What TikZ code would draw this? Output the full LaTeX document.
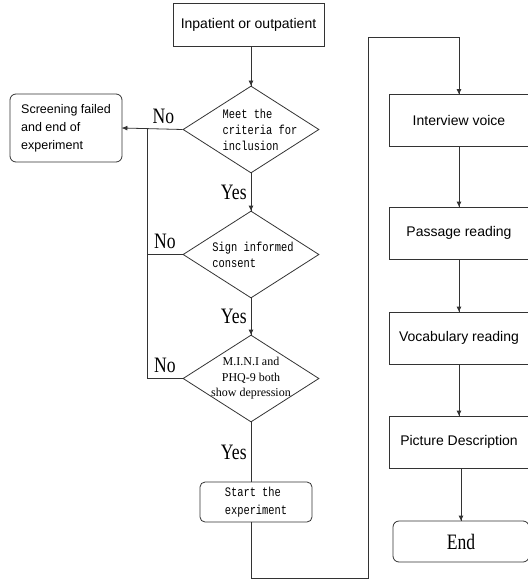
\documentclass[tikz,border=0pt]{standalone}
\usepackage{fontspec}
\setmainfont{Liberation Serif}
\newfontfamily\boxfont{Liberation Sans}
\newfontfamily\codefont[FakeStretch=0.8]{Liberation Mono}
\newfontfamily\answerfont[FakeStretch=0.8]{Liberation Serif}
\usetikzlibrary{shapes.geometric, arrows.meta, decorations.markings}

\begin{document}
\begin{tikzpicture}[%
		x=1pt, y=-1pt,
		process/.style={
			rectangle,
			draw=black!80,
			minimum width=140pt,
			minimum height=52pt,
			inner sep=0pt,
			align=center,
			font=\boxfont\fontsize{14}{17}\selectfont
		},
		terminal/.style={
			rectangle,
			rounded corners=6pt,
			draw=black!80,
			inner sep=0pt,
			align=left
		},
		decision/.style={
			diamond,
			aspect=1.56,
			draw=black!80,
			inner sep=-10pt,
			minimum width=136pt,
			minimum height=87pt,
			align=left,
			font=\codefont\fontsize{13}{16}\selectfont
		},
		answer/.style={
			font=\answerfont\fontsize{22}{22}\selectfont,
			inner sep=2pt
		},
		flowarrow/.style={
			decoration={markings,mark=at position 1 with {\arrow{Triangle[length=5pt,width=4.5pt]}}},
			postaction={decorate}
		}, line width=0.8pt, draw=black!80]

		\useasboundingbox (0,0) rectangle (527,580);

		% SCREENING

		\node (inpatient) [process, minimum width=151pt, minimum height=43pt] at (248.5,24.5) {Inpatient or outpatient};
		\node (criteria) [decision] at (251,129.5) {\hspace*{18pt}Meet the\\\hspace*{18pt}criteria for\\\hspace*{18pt}inclusion};
		\node (consent) [decision] at (251,254.5) {\hspace*{4pt}Sign informed\\\hspace*{4pt}consent};
		\node (depression) [decision, align=center, font=\fontsize{12}{15.5}\selectfont] at (251,378.5) {M.I.N.I and\\PHQ-9 both\\show depression};
		\node (failed) [terminal, minimum width=112pt, minimum height=68pt, font=\boxfont\fontsize{12.5}{18}\selectfont] at (66,128) {Screening failed\\and end of\\experiment};
		\node (start) [terminal, rounded corners=5pt, minimum width=112pt, minimum height=40pt, font=\codefont\fontsize{13}{18}\selectfont] at (256,502) {Start the\\experiment};

		% TASKS

		\node (interview) [process] at (459,120.5) {Interview voice};
		\node (passage) [process] at (459,233) {Passage reading};
		\node (vocabulary) [process] at (459,338) {Vocabulary reading};
		\node (picture) [process] at (459,442) {Picture Description};
		\node (end) [terminal, align=center, minimum width=136pt, minimum height=41pt, font=\answerfont\fontsize{22}{22}\selectfont] at (461,541.5) {End};

		\coordinate (merge) at (147,129.5);
		\coordinate (loopbottom) at (368,578);
		\coordinate (looptop) at (368,37);

		% SCREENING LINES

		\draw[flowarrow] (inpatient.south -| criteria.north) -- (criteria.north);
		\draw[flowarrow] (criteria.south) -- node[answer, left=2pt] {Yes} (consent.north);
		\draw[flowarrow] (consent.south) -- node[answer, left=2pt] {Yes} (depression.north);
		\draw (depression.south) -- node[answer, left=2pt] {Yes} (depression.south |- start.north);
		\draw[flowarrow] (criteria.west) -- node[answer, above=3pt, pos=.32] {No} (failed.east);
		\draw (consent.west) -- node[answer, above=3pt] {No} (consent.west -| merge);
		\draw (depression.west) -- node[answer, above=3pt] {No} (depression.west -| merge) -- (merge);

		% TASK LINES

		\draw[flowarrow] (start.south -| depression.south) |- (loopbottom) -- (looptop) -| (interview.north);
		\draw[flowarrow] (interview.south) -- (passage.north);
		\draw[flowarrow] (passage.south) -- (vocabulary.north);
		\draw[flowarrow] (vocabulary.south) -- (picture.north);
		\draw[flowarrow] (picture.south -| end.north) -- (end.north);
\end{tikzpicture}
\end{document}
